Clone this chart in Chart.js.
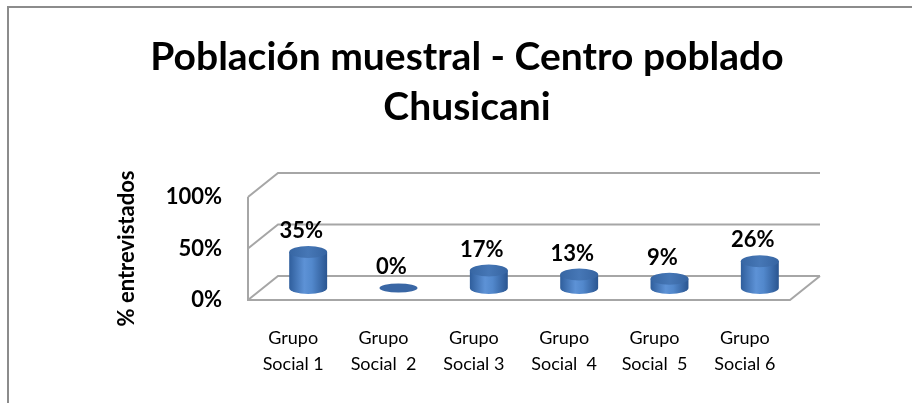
<!DOCTYPE html>
<html>
<head>
<meta charset="utf-8">
<script src="https://cdn.jsdelivr.net/npm/chart.js@4.4.1/dist/chart.umd.min.js"></script>
<style>
  html, body { margin: 0; padding: 0; background: #fff; }
  canvas { display: block; }
</style>
</head>
<body>
<canvas id="chart" width="912" height="403"></canvas>
<script>
// Datos del gráfico
const categories = [
	['Grupo', 'Social 1'],
	['Grupo', 'Social  2'],
	['Grupo', 'Social 3'],
	['Grupo', 'Social  4'],
	['Grupo', 'Social  5'],
	['Grupo', 'Social 6']
];
const shares = [35, 0, 17, 13, 9, 26];
const yTicks = [0, 50, 100];
const titleLines = ['Población muestral - Centro poblado', 'Chusicani'];
const yTitle = '% entrevistados';

// Profundidad del efecto 3D (pared del fondo)
const DX = 30;
const DY = -24;

// Marco del gráfico
const framePlugin = {
	id: 'frame',
	beforeDraw(chart) {
		const ctx = chart.ctx;
		ctx.save();
		ctx.fillStyle = '#fff';
		ctx.fillRect(0, 0, chart.width, chart.height);
		ctx.strokeStyle = '#8c8c8c';
		ctx.lineWidth = 2;
		ctx.beginPath();
		ctx.moveTo(8, chart.height);
		ctx.lineTo(8, 7);
		ctx.lineTo(chart.width, 7);
		ctx.stroke();
		ctx.restore();
	}
};

// Paredes y líneas de división en perspectiva
const wallsPlugin = {
	id: 'walls',
	beforeDatasetsDraw(chart) {
		const { ctx, chartArea: a, scales: { y } } = chart;
		ctx.save();
		ctx.strokeStyle = '#a6a6a6';
		ctx.lineWidth = 2;
		ctx.beginPath();
		y.ticks.forEach(t => {
			const py = y.getPixelForValue(t.value);
			ctx.moveTo(a.left, py);
			ctx.lineTo(a.left + DX, py + DY);
			ctx.lineTo(a.right + DX, py + DY);
		});
		ctx.moveTo(a.left, a.top);
		ctx.lineTo(a.left, a.bottom);
		ctx.lineTo(a.right, a.bottom);
		ctx.lineTo(a.right + DX, a.bottom + DY);
		ctx.stroke();
		ctx.restore();
	}
};

// Cilindros y etiquetas de datos
const cylinderPlugin = {
	id: 'cylinders',
	afterDatasetsDraw(chart) {
		const ctx = chart.ctx;
		const meta = chart.getDatasetMeta(0);
		ctx.save();
		meta.data.forEach((bar, i) => {
			const cx = bar.x + DX / 2;
			const top = bar.y + DY / 2;
			const base = bar.base + DY / 2;
			const rx = bar.width / 2;
			const ry = 6;

			if (base - top < 1) {
				ctx.fillStyle = '#3a67a5';
				ctx.beginPath();
				ctx.ellipse(cx, base, rx, 4.5, 0, 0, Math.PI * 2);
				ctx.fill();
			} else {
				const g = ctx.createLinearGradient(cx - rx, 0, cx + rx, 0);
				g.addColorStop(0, '#2f5e9c');
				g.addColorStop(0.4, '#5d92d6');
				g.addColorStop(0.6, '#5288cc');
				g.addColorStop(1, '#2a5590');
				ctx.fillStyle = g;
				ctx.beginPath();
				ctx.moveTo(cx - rx, top);
				ctx.lineTo(cx - rx, base);
				ctx.ellipse(cx, base, rx, ry, 0, Math.PI, 0, true);
				ctx.lineTo(cx + rx, top);
				ctx.closePath();
				ctx.fill();

				const gt = ctx.createLinearGradient(cx - rx, 0, cx + rx, 0);
				gt.addColorStop(0, '#3766a3');
				gt.addColorStop(0.5, '#4677b6');
				gt.addColorStop(1, '#3664a1');
				ctx.fillStyle = gt;
				ctx.beginPath();
				ctx.ellipse(cx, top, rx, ry, 0, 0, Math.PI * 2);
				ctx.fill();
			}

			ctx.fillStyle = '#000';
			ctx.font = 'bold 22px Lato';
			ctx.textAlign = 'center';
			ctx.textBaseline = 'middle';
			ctx.fillText(shares[i] + '%', bar.x + 8, top - 21);
		});
		ctx.restore();
	}
};

const chart = new Chart(document.getElementById('chart'), {
	type: 'bar',
	data: {
		labels: categories,
		datasets: [{
			data: shares,
			backgroundColor: 'rgba(0,0,0,0)',
			borderWidth: 0,
			barPercentage: 0.42,
			categoryPercentage: 1
		}]
	},
	options: {
		responsive: false,
		animation: false,
		layout: { padding: { left: 144, right: 122, top: 0, bottom: 0 } },
		plugins: {
			legend: { display: false },
			tooltip: { enabled: false },
			title: {
				display: true,
				text: titleLines,
				color: '#000',
				font: { family: 'Lato', size: 39, weight: 'bold', lineHeight: '50px' },
				padding: { top: 32, bottom: 65 }
			}
		},
		scales: {
			x: {
				grid: { display: false, drawTicks: false },
				border: { display: false },
				ticks: {
					color: '#000',
					font: { family: 'Lato', size: 18, lineHeight: '26px' },
					padding: 25,
					maxRotation: 0,
					autoSkip: false
				},
				afterFit(s) { s.height = 103; }
			},
			y: {
				min: 0,
				max: 100,
				grid: { display: false, drawTicks: false },
				border: { display: false },
				afterBuildTicks(s) { s.ticks = yTicks.map(v => ({ value: v })); },
				ticks: {
					color: '#000',
					font: { family: 'Lato', size: 22, weight: 'bold' },
					padding: 26,
					callback: v => v + '%'
				},
				title: {
					display: true,
					text: yTitle,
					color: '#000',
					font: { family: 'Lato', size: 22, weight: 'bold', lineHeight: 1.2 },
					padding: { top: -30, bottom: 0 }
				},
				afterFit(s) { s.width = 104; }
			}
		}
	},
	plugins: [framePlugin, wallsPlugin, cylinderPlugin]
});
</script>
</body>
</html>
